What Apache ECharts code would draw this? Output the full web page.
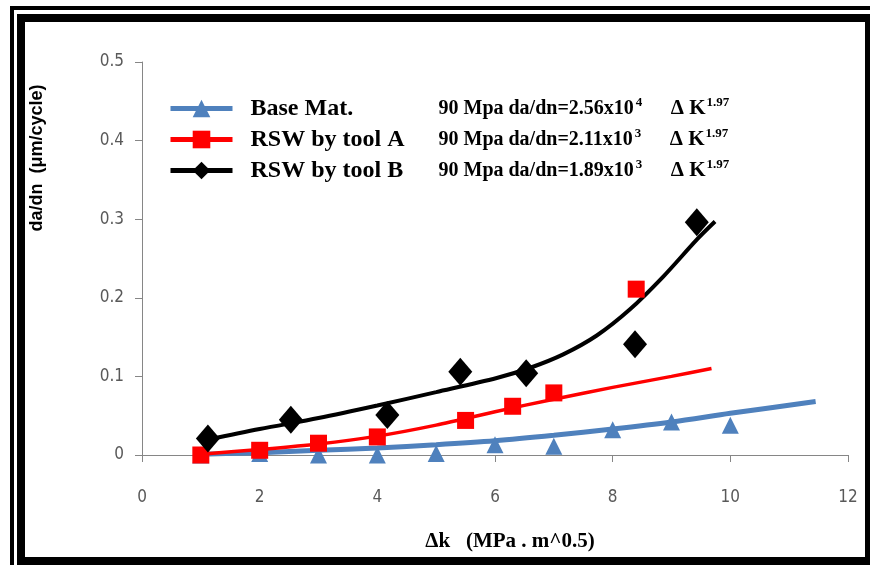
<!DOCTYPE html>
<html><head><meta charset="utf-8">
<script src="https://cdn.jsdelivr.net/npm/echarts@6/dist/echarts.min.js"></script>
<style>html,body{margin:0;padding:0;background:#fff}#c{width:870px;height:565px}</style>
</head><body><div id="c"></div>
<script>
// ---- data ----
const seriesNames = ['Base Mat.', 'RSW by tool A', 'RSW by tool B'];
const eqCoef = ['2.56x10', '2.11x10', '1.89x10'];
const eqExp = ['4', '3', '3'];
const eqK = 'Δ K';
const eqKExp = '1.97';
const xRange = [0, 12, 2];
const yRange = [0, 0.5, 0.1];
const xTitle = 'Δk   (MPa . m^0.5)';
const yTitle = 'da/dn  (μm/cycle)';

const baseX = [1, 2, 3, 4, 5, 6, 7, 8, 9, 10];
const baseY = [0, 0.002, 0, 0, 0.002, 0.013, 0.011, 0.032, 0.042, 0.038];
const toolAX = [1, 2, 3, 4, 5.5, 6.3, 7, 8.4];
const toolAY = [0, 0.006, 0.015, 0.023, 0.044, 0.062, 0.079, 0.211];
const toolBX = [1.12, 2.53, 4.17, 5.41, 6.53, 8.38, 9.43];
const toolBY = [0.021, 0.045, 0.051, 0.106, 0.104, 0.141, 0.296];

const baseFitX = [1, 2, 3, 4, 5, 6, 7, 8, 9, 10, 11.45];
const baseFitY = [0.001, 0.003, 0.006, 0.009, 0.013, 0.018, 0.025, 0.033, 0.042, 0.053, 0.068];
const toolAFitX = [1, 2, 3, 4, 5, 6, 7, 8, 9, 9.68];
const toolAFitY = [0.001, 0.007, 0.014, 0.024, 0.038, 0.055, 0.071, 0.086, 0.100, 0.110];
const toolBFitX = [1.1, 2, 3, 4, 5, 6.03, 6.6, 7.16, 7.73, 8.29, 8.86, 9.43, 9.74];
const toolBFitY = [0.019, 0.033, 0.047, 0.063, 0.080, 0.098, 0.111, 0.128, 0.152, 0.185, 0.227, 0.274, 0.297];

const colors = ['#4f81bd', '#ff0000', '#000000'];
const zip = (xs, ys) => xs.map((x, i) => [x, ys[i]]);

const SERIF = '"Liberation Serif", "Times New Roman", serif';
const SANS = '"Liberation Sans", Arial, sans-serif';
const NARROW = '"Liberation Sans Narrow", "DejaVu Sans Condensed", "Liberation Sans", sans-serif';

const chart = echarts.init(document.getElementById('c'), null, {renderer: 'canvas'});

const fits = [zip(baseFitX, baseFitY), zip(toolAFitX, toolAFitY), zip(toolBFitX, toolBFitY)];
const pts = [zip(baseX, baseY), zip(toolAX, toolAY), zip(toolBX, toolBY)];
const symbols = ['triangle', 'rect', 'diamond'];
const symSizes = [[17, 17], [17, 17], [24, 28]];
const lineWidths = [5, 3.5, 4];

const series = [];
for (let i = 0; i < 3; i++) {
  series.push({
    name: seriesNames[i], type: 'line', data: fits[i], smooth: 0.3,
    symbol: symbols[i], showSymbol: false, silent: true,
    lineStyle: {color: colors[i], width: lineWidths[i]},
    itemStyle: {color: colors[i]}, z: 2
  });
}
for (let i = 0; i < 3; i++) {
  series.push({
    name: seriesNames[i], type: 'scatter', data: pts[i],
    symbol: symbols[i], symbolSize: symSizes[i], silent: true,
    itemStyle: {color: colors[i], opacity: 1}, z: 3
  });
}

chart.setOption({
  animation: false,
  backgroundColor: '#fff',
  grid: {left: 142, right: 22, top: 62, bottom: 110, containLabel: false},
  xAxis: {
    type: 'value', min: xRange[0], max: xRange[1], interval: xRange[2],
    axisLine: {lineStyle: {color: '#868686', width: 1}},
    axisTick: {show: true, inside: false, length: 7, lineStyle: {color: '#868686'}},
    splitLine: {show: false},
    axisLabel: {color: '#595959', fontSize: 17, fontFamily: NARROW, margin: 34},
    name: xTitle, nameLocation: 'middle', nameGap: 76,
    nameTextStyle: {fontFamily: SERIF, fontWeight: 'bold', fontSize: 21, color: '#000', padding: [0, 0, 0, 30]}
  },
  yAxis: {
    type: 'value', min: yRange[0], max: yRange[1], interval: yRange[2],
    axisLine: {show: true, lineStyle: {color: '#868686', width: 1}},
    axisTick: {show: true, inside: false, length: 7, lineStyle: {color: '#868686'}},
    splitLine: {show: false},
    axisLabel: {color: '#595959', fontSize: 17, fontFamily: NARROW, margin: 18}
  },
  legend: {
    orient: 'vertical', left: 168, top: 96, padding: 0, itemWidth: 62, itemHeight: 22, itemGap: 6,
    selectedMode: false, data: seriesNames,
    lineStyle: {width: 5},
    formatter: function (name) {
      const i = seriesNames.indexOf(name);
      return '{n|' + name + '}{e|90 Mpa da/dn=' + eqCoef[i] + '}{s|' + eqExp[i] + '}{k|' + eqK + '}{t|' + eqKExp + '}';
    },
    textStyle: {
      color: '#000',
      rich: {
        n: {fontFamily: SERIF, fontWeight: 'bold', fontSize: 24, lineHeight: 22, width: 188, padding: [0, 0, 0, 13], color: '#000'},
        e: {fontFamily: SERIF, fontWeight: 'bold', fontSize: 20, lineHeight: 22, color: '#000'},
        s: {fontFamily: SERIF, fontWeight: 'bold', fontSize: 13, lineHeight: 10, width: 35, padding: [0, 0, 12, 2], color: '#000'},
        k: {fontFamily: SERIF, fontWeight: 'bold', fontSize: 21, lineHeight: 22, color: '#000'},
        t: {fontFamily: SERIF, fontWeight: 'bold', fontSize: 13, lineHeight: 10, padding: [0, 0, 12, 1], color: '#000'}
      }
    }
  },
  graphic: [
    {type: 'rect', silent: true, shape: {x: 12, y: 8, width: 900, height: 700}, style: {fill: 'none', stroke: '#000', lineWidth: 4}},
    {type: 'rect', silent: true, shape: {x: 21, y: 18, width: 848, height: 543}, style: {fill: 'none', stroke: '#000', lineWidth: 8}},
    {type: 'text', silent: true, x: 37, y: 158, rotation: Math.PI / 2,
      style: {text: yTitle, font: 'bold 18px ' + SANS, align: 'center', verticalAlign: 'middle', fill: '#000'}}
  ],
  series: series
});
</script>
</body></html>
